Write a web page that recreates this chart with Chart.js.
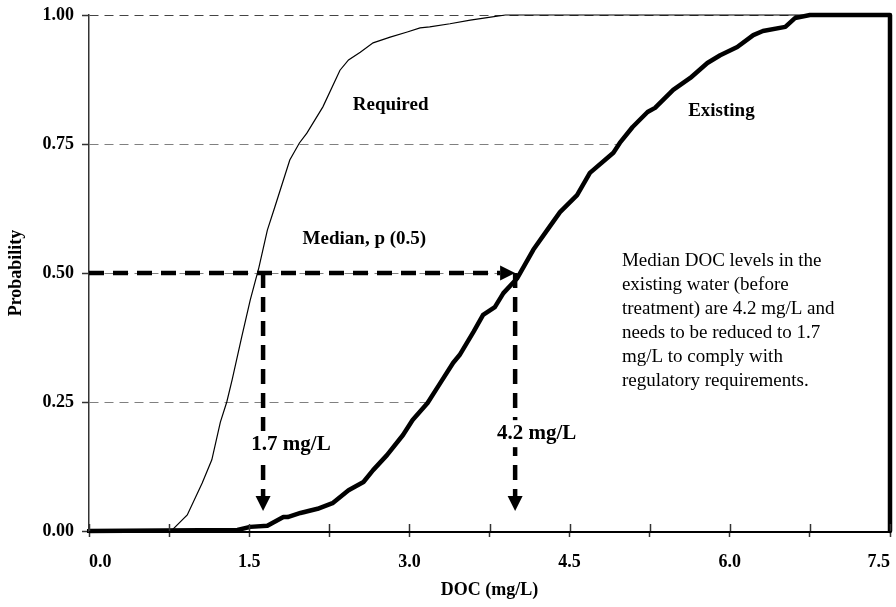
<!DOCTYPE html>
<html>
<head>
<meta charset="utf-8">
<script src="https://cdn.jsdelivr.net/npm/chart.js@4/dist/chart.umd.min.js"></script>
<style>
  body { margin: 0; background: #fff; }
  #wrap { width: 896px; height: 607px; }
</style>
</head>
<body>
<div id="wrap"><canvas id="chart" width="896" height="607"></canvas></div>
<script>
// axis ticks
const xTickValues = [0, 0.75, 1.5, 2.25, 3, 3.75, 4.5, 5.25, 6, 6.75, 7.5];
const xTickLabels = ['0.0', '', '1.5', '', '3.0', '', '4.5', '', '6.0', '', '7.5'];
const yTickValues = [0, 0.25, 0.5, 0.75, 1];
const yTickLabels = ['0.00', '0.25', '0.50', '0.75', '1.00'];

// cumulative probability curves
const requiredX = [0, 0.77, 0.92, 1.06, 1.15, 1.23, 1.29, 1.34, 1.43, 1.51, 1.59, 1.67, 1.74, 1.88, 1.97, 2.04, 2.19, 2.35, 2.43, 2.54, 2.66, 2.82, 2.98, 3.10, 3.19, 3.38, 3.57, 3.76, 3.90, 7.5];
const requiredY = [0, 0, 0.031, 0.093, 0.138, 0.211, 0.250, 0.293, 0.376, 0.448, 0.51, 0.583, 0.628, 0.719, 0.752, 0.771, 0.822, 0.893, 0.913, 0.928, 0.946, 0.957, 0.967, 0.975, 0.977, 0.983, 0.990, 0.996, 1, 1];

const existingX = [0, 1.39, 1.51, 1.67, 1.82, 1.86, 1.98, 2.14, 2.28, 2.43, 2.57, 2.66, 2.79, 2.94, 3.03, 3.17, 3.29, 3.41, 3.47, 3.60, 3.69, 3.80, 3.88, 4.01, 4.16, 4.29, 4.41, 4.57, 4.69, 4.91, 4.97, 5.09, 5.23, 5.30, 5.47, 5.63, 5.79, 5.91, 6.07, 6.22, 6.31, 6.52, 6.61, 6.75, 7.5, 7.5];
const existingY = [0, 0.002, 0.008, 0.010, 0.027, 0.027, 0.035, 0.043, 0.054, 0.079, 0.095, 0.118, 0.147, 0.186, 0.215, 0.248, 0.287, 0.326, 0.341, 0.386, 0.419, 0.434, 0.461, 0.490, 0.545, 0.583, 0.618, 0.651, 0.694, 0.733, 0.752, 0.783, 0.812, 0.820, 0.855, 0.878, 0.907, 0.922, 0.938, 0.961, 0.969, 0.977, 0.994, 1, 1, 0];

// median read-off arrows
const medianP = 0.5;
const requiredMedian = 1.63;
const existingMedian = 3.99;
const arrowEndY = 0.039;

const SERIF = "'Liberation Serif', 'Times New Roman', serif";

const toPoints = (xs, ys) => xs.map((x, i) => ({ x: x, y: ys[i] }));

// text notes, positioned in data units (left edge, baseline)
const notes = [
    { text: 'Required', x: 2.47, y: 0.816, font: 'bold 19px ' + SERIF },
    { text: 'Existing', x: 5.61, y: 0.804, font: 'bold 19px ' + SERIF },
    { text: 'Median, p (0.5)', x: 2.00, y: 0.556, font: 'bold 19px ' + SERIF },
    { text: '1.7 mg/L', x: 1.52, y: 0.157, font: 'bold 21px ' + SERIF, box: true },
    { text: '4.2 mg/L', x: 3.82, y: 0.178, font: 'bold 21px ' + SERIF, box: true }
];
const paragraph = [
    'Median DOC levels in the',
    'existing water (before',
    'treatment) are 4.2 mg/L and',
    'needs to be reduced to 1.7',
    'mg/L to comply with',
    'regulatory requirements.'
];

const annotations = {
    id: 'annotations',
    afterDatasetsDraw(chart) {
        const ctx = chart.ctx;
        const xs = chart.scales.x;
        const ys = chart.scales.y;
        const area = chart.chartArea;

        // inner half of the x tick marks
        ctx.save();
        ctx.strokeStyle = '#333';
        ctx.lineWidth = 1.5;
        xTickValues.forEach(v => {
            const px = Math.round(xs.getPixelForValue(v)) + 0.5;
            ctx.beginPath();
            ctx.moveTo(px, area.bottom - 7);
            ctx.lineTo(px, area.bottom);
            ctx.stroke();
        });
        ctx.restore();

        const yMid = ys.getPixelForValue(medianP);
        const xReq = xs.getPixelForValue(requiredMedian);
        const xExi = xs.getPixelForValue(existingMedian);
        const yEnd = ys.getPixelForValue(arrowEndY);
        const head = 15, half = 7.5;

        ctx.save();
        ctx.strokeStyle = '#000';
        ctx.fillStyle = '#000';
        ctx.lineWidth = 4.5;
        ctx.setLineDash([15, 9]);
        ctx.beginPath();
        ctx.moveTo(xs.getPixelForValue(0), yMid);
        ctx.lineTo(xExi - head, yMid);
        ctx.moveTo(xReq, yMid);
        ctx.lineTo(xReq, yEnd - head);
        ctx.moveTo(xExi, yMid);
        ctx.lineTo(xExi, yEnd - head);
        ctx.stroke();
        ctx.setLineDash([]);

        ctx.beginPath();
        ctx.moveTo(xExi, yMid);
        ctx.lineTo(xExi - head, yMid - half);
        ctx.lineTo(xExi - head, yMid + half);
        ctx.closePath();
        ctx.fill();
        [xReq, xExi].forEach(px => {
            ctx.beginPath();
            ctx.moveTo(px, yEnd);
            ctx.lineTo(px - half, yEnd - head);
            ctx.lineTo(px + half, yEnd - head);
            ctx.closePath();
            ctx.fill();
        });

        ctx.textBaseline = 'alphabetic';
        ctx.textAlign = 'left';
        notes.forEach(n => {
            ctx.font = n.font;
            const tx = xs.getPixelForValue(n.x);
            const ty = ys.getPixelForValue(n.y);
            if (n.box) {
                const w = ctx.measureText(n.text).width;
                ctx.fillStyle = '#fff';
                ctx.fillRect(tx - 3, ty - 19, w + 6, 27);
                ctx.fillStyle = '#000';
            }
            ctx.fillText(n.text, tx, ty);
        });
        ctx.font = '19px ' + SERIF;
        const px0 = xs.getPixelForValue(4.99);
        const py0 = ys.getPixelForValue(0.5136);
        paragraph.forEach((line, i) => ctx.fillText(line, px0, py0 + i * 24));
        ctx.restore();
    }
};

new Chart(document.getElementById('chart').getContext('2d'), {
    type: 'line',
    data: {
        datasets: [{
            label: 'Required',
            data: toPoints(requiredX, requiredY),
            borderColor: '#000',
            borderWidth: 1.2,
            pointRadius: 0,
            tension: 0,
            fill: false,
            clip: false
        }, {
            label: 'Existing',
            data: toPoints(existingX, existingY),
            borderColor: '#000',
            backgroundColor: '#fff',
            fill: 'origin',
            borderWidth: 4.5,
            borderJoinStyle: 'round',
            pointRadius: 0,
            tension: 0,
            clip: false
        }]
    },
    options: {
        responsive: false,
        animation: false,
        devicePixelRatio: 1,
        layout: { padding: { top: 15, right: 6, left: 0, bottom: 0 } },
        plugins: {
            legend: { display: false },
            tooltip: { enabled: false }
        },
        scales: {
            x: {
                type: 'linear',
                min: 0,
                max: 7.5,
                afterBuildTicks: scale => { scale.ticks = xTickValues.map(v => ({ value: v })); },
                afterFit: scale => { scale.height = 76; scale.paddingLeft = 0; scale.paddingRight = 0; },
                ticks: {
                    autoSkip: false,
                    maxRotation: 0,
                    align: 'inner',
                    padding: 15,
                    color: '#000',
                    font: { family: SERIF, size: 18, weight: 'bold' },
                    callback: (value, index) => xTickLabels[index]
                },
                grid: {
                    drawOnChartArea: false,
                    tickLength: 6,
                    tickColor: '#333',
                    tickWidth: 1.5
                },
                border: { display: true, color: '#000', width: 4 },
                title: {
                    display: true,
                    text: 'DOC (mg/L)',
                    color: '#000',
                    font: { family: SERIF, size: 18, weight: 'bold' },
                    padding: { top: 0, bottom: 6 }
                }
            },
            y: {
                min: 0,
                max: 1,
                afterBuildTicks: scale => { scale.ticks = yTickValues.map(v => ({ value: v })); },
                afterFit: scale => { scale.width = 89; scale.paddingTop = 0; scale.paddingBottom = 0; },
                ticks: {
                    padding: 8,
                    color: '#000',
                    font: { family: SERIF, size: 18, weight: 'bold' },
                    callback: (value, index) => yTickLabels[index]
                },
                grid: {
                    color: ctx => ctx.tick && ctx.tick.value === 0 ? 'rgba(0,0,0,0)' : (ctx.tick && ctx.tick.value === 1 ? '#444' : '#808080'),
                    lineWidth: 1,
                    tickLength: 7,
                    tickColor: '#333',
                    tickWidth: 1.5,
                    tickBorderDash: []
                },
                border: { display: true, color: '#333', width: 1.5, dash: [9, 6] },
                title: {
                    display: true,
                    text: 'Probability',
                    color: '#000',
                    font: { family: SERIF, size: 18, weight: 'bold' },
                    padding: { top: 6, bottom: 0 }
                }
            }
        }
    },
    plugins: [annotations]
});
</script>
</body>
</html>
